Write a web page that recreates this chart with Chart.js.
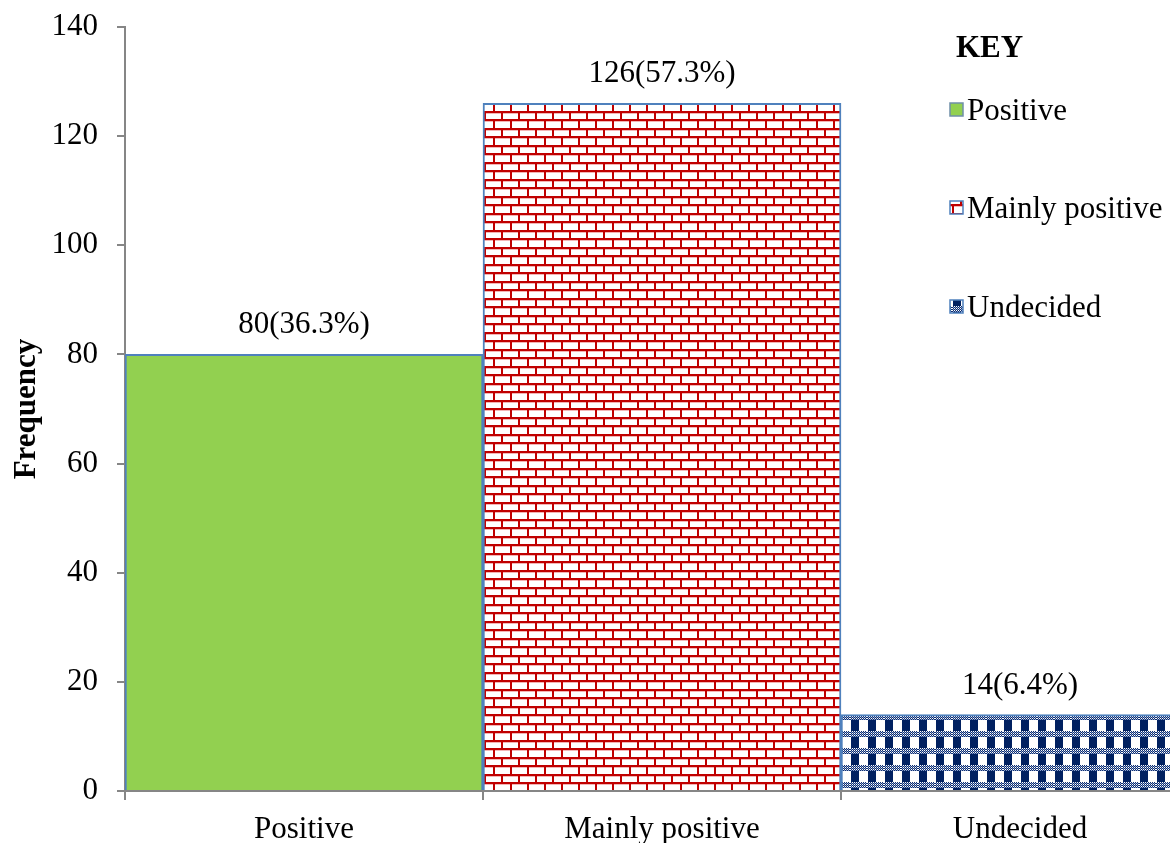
<!DOCTYPE html>
<html><head><meta charset="utf-8">
<script src="https://cdn.jsdelivr.net/npm/chart.js@4.4.0/dist/chart.umd.min.js"></script>
<style>
html,body{margin:0;padding:0;overflow:hidden;background:#fff;width:1170px;height:843px}
#wrap{position:absolute;left:0;top:0;width:1199px;height:843px}
</style>
</head><body>
<div id="wrap"><canvas id="c" width="1199" height="843"></canvas></div>
<script>
const categories = ['Positive', 'Mainly positive', 'Undecided'];
const frequencies = [80, 126, 14];
const percentLabels = ['36.3%', '57.3%', '6.4%'];
const yTickValues = [0, 20, 40, 60, 80, 100, 120, 140];
const legendTitle = 'KEY';
const axisTitle = 'Frequency';

const FONT = "'Liberation Serif', 'Times New Roman', serif";
const AXIS = '#868686';
const EDGE = '#4f81bd';

function makeTile(w, h, drawFn) {
  const c = document.createElement('canvas');
  c.width = w; c.height = h;
  const g = c.getContext('2d');
  g.fillStyle = '#ffffff'; g.fillRect(0, 0, w, h);
  drawFn(g);
  return document.createElement('canvas').getContext('2d').createPattern(c, 'repeat');
}
const brickPattern = makeTile(17, 17, g => {
  g.fillStyle = '#f3b5b5';
  g.fillRect(0, 2, 17, 1); g.fillRect(0, 11, 17, 1);
  g.fillStyle = '#c00000';
  g.fillRect(0, 0, 17, 2); g.fillRect(0, 9, 17, 2);
  g.fillRect(0, 2, 2, 7); g.fillRect(8, 11, 2, 6);
});
const checkPattern = makeTile(17, 17, g => {
  g.fillStyle = '#0f2f70';
  g.fillRect(0, 0, 17, 6);
  for (let y = 0; y < 6; y++) for (let x = 0; x < 17; x++) {
    if (y % 2 === 0 && x % 2 === 0) { g.fillStyle = '#ffffff'; g.fillRect(x, y, 1, 1); }
    else if (y % 2 === 1 && x % 2 === 1) { g.fillStyle = '#8ea3cf'; g.fillRect(x, y, 1, 1); }
  }
  g.fillStyle = '#002060';
  g.fillRect(1, 6, 8, 11);
});
const greenFill = '#92d050';
const fills = [greenFill, brickPattern, checkPattern];

const labelPlugin = {
  id: 'valueLabels',
  afterDatasetsDraw(chart) {
    const ctx = chart.ctx;
    const meta = chart.getDatasetMeta(0);
    ctx.save();
    ctx.font = '31px ' + FONT;
    ctx.fillStyle = '#000';
    ctx.textAlign = 'center';
    ctx.textBaseline = 'alphabetic';
    meta.data.forEach((bar, i) => {
      ctx.fillText(frequencies[i] + '(' + percentLabels[i] + ')', bar.x, bar.y - 21);
    });
    ctx.restore();
  }
};

const keyPlugin = {
  id: 'keyLegend',
  afterDraw(chart) {
    const ctx = chart.ctx;
    ctx.save();
    ctx.fillStyle = '#000';
    ctx.textBaseline = 'alphabetic';
    ctx.textAlign = 'left';
    ctx.font = 'bold 31px ' + FONT;
    ctx.fillText(legendTitle, 956, 57);
    ctx.font = '31px ' + FONT;
    const baselines = [120, 218, 317];
    categories.forEach((name, i) => {
      const by = baselines[i];
      const mx = 950, my = by - 17, s = 13;
      ctx.fillStyle = fills[i];
      ctx.fillRect(mx, my, s, s);
      ctx.strokeStyle = i === 0 ? '#6f8fa8' : EDGE;
      ctx.lineWidth = 1.5;
      ctx.strokeRect(mx, my, s, s);
      ctx.fillStyle = '#000';
      ctx.fillText(name, 967, by);
    });
    ctx.restore();
  }
};

new Chart(document.getElementById('c'), {
  type: 'bar',
  data: {
    labels: categories,
    datasets: [{
      data: frequencies,
      backgroundColor: fills,
      borderColor: EDGE,
      borderWidth: {top: 2, left: 2, right: 2, bottom: 0},
      borderSkipped: false,
      barPercentage: 1,
      categoryPercentage: 1
    }]
  },
  options: {
    responsive: false,
    animation: false,
    devicePixelRatio: 1,
    layout: {padding: {top: 27, right: 0, left: 0, bottom: 0}},
    plugins: {legend: {display: false}, tooltip: {enabled: false}},
    scales: {
      x: {
        z: 1,
        offset: true,
        grid: {display: true, drawOnChartArea: false, drawTicks: true, tickLength: 9, color: AXIS, lineWidth: 2, offset: true},
        border: {display: true, color: AXIS, width: 2},
        ticks: {color: '#000', font: {family: FONT, size: 31}, padding: 11, maxRotation: 0, autoSkip: false},
        afterFit(s) { s.height = 52; s.paddingLeft = 0; s.paddingRight = 0; }
      },
      y: {
        z: 1,
        min: 0, max: 140,
        afterBuildTicks(s) { s.ticks = yTickValues.map(v => ({value: v})); },
        grid: {display: true, drawOnChartArea: false, drawTicks: true, tickLength: 8, color: AXIS, lineWidth: 2},
        border: {display: true, color: AXIS, width: 2},
        ticks: {color: '#000', font: {family: FONT, size: 31}, padding: 19},
        title: {display: true, text: axisTitle, color: '#000', font: {family: FONT, size: 31, weight: 'bold'}, padding: {top: 8, bottom: 0}},
        afterFit(s) { s.width = 125; s.paddingTop = 0; s.paddingBottom = 0; }
      }
    }
  },
  plugins: [labelPlugin, keyPlugin]
});
</script>
</body></html>
